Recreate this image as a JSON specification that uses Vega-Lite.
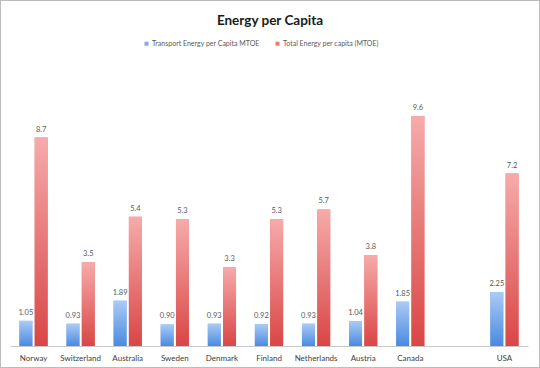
{
  "$schema": "https://vega.github.io/schema/vega-lite/v6.json",
  "width": 540,
  "height": 368,
  "autosize": {"type": "none"},
  "padding": 0,
  "background": "white",
  "config": {
    "view": {"stroke": "#bcbcbc", "strokeWidth": 2},
    "font": "Lato"
  },
  "title": {
    "text": "Energy per Capita",
    "fontSize": 13.5,
    "fontWeight": "bold",
    "color": "#1a1a1a",
    "anchor": "middle",
    "baseline": "alphabetic",
    "offset": -38,
    "frame": "group"
  },
  "data": {
    "values": [
      {"country": "Norway", "series": "Transport Energy per Capita MTOE", "value": 1.05},
      {"country": "Norway", "series": "Total Energy per capita (MTOE)", "value": 8.7},
      {"country": "Switzerland", "series": "Transport Energy per Capita MTOE", "value": 0.93},
      {"country": "Switzerland", "series": "Total Energy per capita (MTOE)", "value": 3.5},
      {"country": "Australia", "series": "Transport Energy per Capita MTOE", "value": 1.89},
      {"country": "Australia", "series": "Total Energy per capita (MTOE)", "value": 5.4},
      {"country": "Sweden", "series": "Transport Energy per Capita MTOE", "value": 0.90},
      {"country": "Sweden", "series": "Total Energy per capita (MTOE)", "value": 5.3},
      {"country": "Denmark", "series": "Transport Energy per Capita MTOE", "value": 0.93},
      {"country": "Denmark", "series": "Total Energy per capita (MTOE)", "value": 3.3},
      {"country": "Finland", "series": "Transport Energy per Capita MTOE", "value": 0.92},
      {"country": "Finland", "series": "Total Energy per capita (MTOE)", "value": 5.3},
      {"country": "Netherlands", "series": "Transport Energy per Capita MTOE", "value": 0.93},
      {"country": "Netherlands", "series": "Total Energy per capita (MTOE)", "value": 5.7},
      {"country": "Austria", "series": "Transport Energy per Capita MTOE", "value": 1.04},
      {"country": "Austria", "series": "Total Energy per capita (MTOE)", "value": 3.8},
      {"country": "Canada", "series": "Transport Energy per Capita MTOE", "value": 1.85},
      {"country": "Canada", "series": "Total Energy per capita (MTOE)", "value": 9.6},
      {"country": "USA", "series": "Transport Energy per Capita MTOE", "value": 2.25},
      {"country": "USA", "series": "Total Energy per capita (MTOE)", "value": 7.2}
    ]
  },
  "encoding": {
    "x": {
      "field": "country",
      "type": "nominal",
      "sort": null,
      "scale": {
        "domain": ["Norway", "Switzerland", "Australia", "Sweden", "Denmark", "Finland", "Netherlands", "Austria", "Canada", " ", "USA"],
        "range": [10, 528],
        "paddingInner": 0.4,
        "paddingOuter": 0.2
      },
      "axis": {
        "title": null,
        "labelAngle": 0,
        "ticks": false,
        "domainColor": "#c8c8c8",
        "domainWidth": 1,
        "labelPadding": 8,
        "labelFontSize": 8,
        "labelColor": "#404040",
        "offset": -22,
        "grid": false
      }
    },
    "xOffset": {
      "field": "series",
      "type": "nominal",
      "scale": {
        "domain": ["Transport Energy per Capita MTOE", "Total Energy per capita (MTOE)"],
        "paddingInner": 0.15
      }
    },
    "y": {
      "field": "value",
      "type": "quantitative",
      "scale": {"domain": [0, 12], "range": [346, 58.5]},
      "axis": null
    }
  },
  "layer": [
    {
      "mark": {"type": "bar"},
      "encoding": {
        "color": {
          "field": "series",
          "type": "nominal",
          "scale": {
            "domain": ["Transport Energy per Capita MTOE", "Total Energy per capita (MTOE)"],
            "range": ["#7fabe8", "#e77b7a"]
          },
          "legend": {
            "orient": "none",
            "legendX": 143,
            "legendY": 40,
            "direction": "horizontal",
            "title": null,
            "symbolType": "square",
            "symbolSize": 16,
            "symbolStrokeWidth": 0,
            "labelFontSize": 7,
            "labelColor": "#595959",
            "columnPadding": 14,
            "labelOffset": 2
          }
        }
      }
    },
    {
      "transform": [{"filter": "datum.series === 'Transport Energy per Capita MTOE'"}],
      "mark": {
        "type": "bar",
        "fill": {"gradient": "linear", "x1": 0, "y1": 0, "x2": 0, "y2": 1, "stops": [{"offset": 0, "color": "#aacbf5"}, {"offset": 1, "color": "#4a8ae0"}]}
      }
    },
    {
      "transform": [{"filter": "datum.series === 'Total Energy per capita (MTOE)'"}],
      "mark": {
        "type": "bar",
        "fill": {"gradient": "linear", "x1": 0, "y1": 0, "x2": 0, "y2": 1, "stops": [{"offset": 0, "color": "#f6abaa"}, {"offset": 1, "color": "#d94646"}]}
      }
    },
    {
      "transform": [{"filter": "datum.series === 'Transport Energy per Capita MTOE'"}],
      "mark": {"type": "text", "baseline": "bottom", "dy": -4, "fontSize": 7.5, "color": "#595959"},
      "encoding": {"text": {"field": "value", "type": "quantitative", "format": ".2f"}}
    },
    {
      "transform": [{"filter": "datum.series === 'Total Energy per capita (MTOE)'"}],
      "mark": {"type": "text", "baseline": "bottom", "dy": -4, "fontSize": 7.5, "color": "#595959"},
      "encoding": {"text": {"field": "value", "type": "quantitative", "format": ".1f"}}
    }
  ]
}
